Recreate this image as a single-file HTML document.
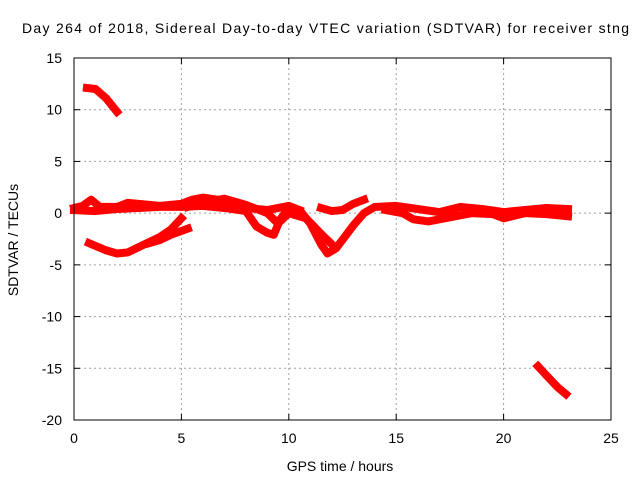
<!DOCTYPE html>
<html><head><meta charset="utf-8"><style>
body{margin:0;background:#fff}
svg{display:block;font-family:"Liberation Sans",sans-serif;font-size:14px}
</style></head><body>
<svg id="chart" width="640" height="480" viewBox="0 0 640 480">
<rect width="640" height="480" fill="#fff"/>
<text x="22" y="33" textLength="607" lengthAdjust="spacing">Day 264 of 2018, Sidereal Day-to-day VTEC variation (SDTVAR) for receiver stng</text>
<text x="340" y="471" text-anchor="middle">GPS time / hours</text>
<text transform="translate(18,240) rotate(-90)" text-anchor="middle">SDTVAR / TECUs</text>
<g id="grid"></g>
<g id="ticks"></g>
<g id="series"></g>
<rect x="74" y="58" width="537" height="362" fill="none" stroke="#000" stroke-width="1"/>
</svg>
<script>
const xTicks=[0,5,10,15,20,25];
const yTicks=[15,10,5,0,-5,-10,-15,-20];
const segUpper=[[0.6,12.1],[1.0,12.0],[1.5,11.1],[2.0,9.8]];
const segBandA=[[0,0.5],[0.4,0.7],[0.8,1.3],[1.2,0.6],[2,0.6],[2.5,1.0],[3,0.9],[4,0.7],[5,0.9],[5.5,1.3],[6,1.5],[7,1.2],[7.5,1.0],[8,0.5],[9,0.3],[10,0.7],[10.5,0.3]];
const segBandB=[[0,0.3],[1,0.2],[2,0.4],[3,0.5],[4,0.6],[5,0.6],[6,0.7],[7,0.5],[8,0.2],[8.5,-1.3],[9,-1.9],[9.3,-2.1],[9.6,-0.6],[10,0.5],[10.5,0.3],[11,-1.0],[11.5,-3.0],[11.8,-3.9],[12.2,-3.4],[13,-1.2],[13.5,0.0],[14,0.6],[15,0.7],[16,0.4],[17,0.1],[18,0.6],[19,0.4],[20,0.1],[21,0.3],[22,0.5],[23,0.4]];
const segBandC=[[5.3,0.6],[6,1.0],[7,1.4],[8,0.8],[9,0.0],[9.5,-1.0],[10,0.0],[10.8,-0.5],[11.5,-2.0],[12,-3.0]];
const segShort=[[11.5,0.5],[12,0.2],[12.5,0.3],[13,0.9],[13.5,1.3]];
const segLowBand=[[14.5,0.3],[15.3,0.0],[15.8,-0.6],[16.5,-0.8],[17.5,-0.4],[18.5,0.0],[19.5,-0.1],[20,-0.5],[21,0.0],[22,-0.1],[23,-0.3]];
const segArc1=[[0.7,-2.9],[1.5,-3.6],[2,-3.9],[2.5,-3.8],[3,-3.3],[4,-2.3],[4.5,-1.6],[5,-0.5]];
const segArc2=[[3.5,-2.9],[4,-2.6],[4.5,-2.1],[5.3,-1.5]];
const segLower=[[21.6,-14.8],[22,-15.7],[22.5,-16.8],[22.9,-17.5]];
const segments=[segUpper,segBandA,segBandB,segBandC,segShort,segLowBand,segArc1,segArc2,segLower];
const X0=74,X1=611,Y0=58,Y1=420;
function sx(v){return X0+(v-0)/(25-0)*(X1-X0);}
function sy(v){return Y0+(15-v)/(15+20)*(Y1-Y0);}
const NS='http://www.w3.org/2000/svg';
const grid=document.getElementById('grid'),ticks=document.getElementById('ticks'),ser=document.getElementById('series');
function mk(tag,attrs,parent){const e=document.createElementNS(NS,tag);for(const k in attrs)e.setAttribute(k,attrs[k]);parent.appendChild(e);return e;}
xTicks.forEach(t=>{
  const x=sx(t);
  if(t>0&&t<25){const g=mk('line',{x1:x,x2:x,y1:Y0,y2:Y1,stroke:'#a0a0a0','stroke-dasharray':'2,3'},grid);
  
  }
  const a=mk('line',{x1:x,x2:x,y1:Y1,y2:Y1-6,stroke:'#000'},ticks);
  
  
  const b=mk('line',{x1:x,x2:x,y1:Y0,y2:Y0+6,stroke:'#000'},ticks);
  
  
  const tx=mk('text',{x:x,y:443,'text-anchor':'middle'},ticks);tx.textContent=t;
  
  
});
yTicks.forEach(t=>{
  const y=sy(t);
  if(t<15&&t>-20){const g=mk('line',{x1:X0,x2:X1,y1:y,y2:y,stroke:'#a0a0a0','stroke-dasharray':'2,3'},grid);
  
  }
  const a=mk('line',{x1:X0,x2:X0+6,y1:y,y2:y,stroke:'#000'},ticks);
  
  
  const b=mk('line',{x1:X1,x2:X1-6,y1:y,y2:y,stroke:'#000'},ticks);
  
  
  const tx=mk('text',{x:62,y:y+5,'text-anchor':'end'},ticks);tx.textContent=t;
  
  
});
segments.forEach(s=>{
  const p=mk('polyline',{points:s.map(d=>sx(d[0])+','+sy(d[1])).join(' '),fill:'none',stroke:'#ff0000','stroke-width':8,'stroke-linejoin':'round','stroke-linecap':'square'},ser);
  
  
});
</script>
</body></html>
